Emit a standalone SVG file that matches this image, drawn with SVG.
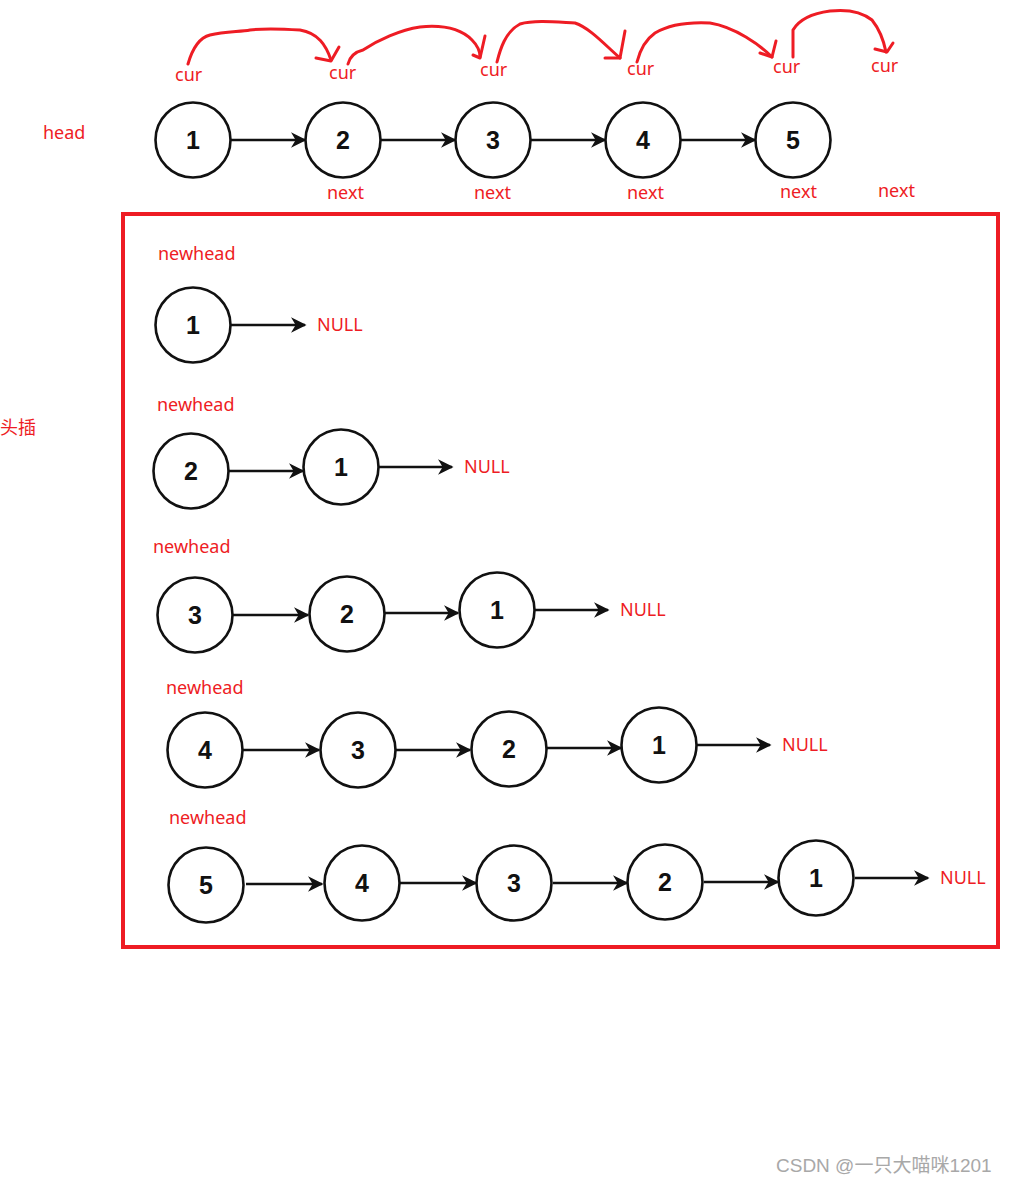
<svg xmlns="http://www.w3.org/2000/svg" width="1010" height="1184" viewBox="0 0 1010 1184">
<defs>
<style>
.n circle{fill:#fff;stroke:#111;stroke-width:2.6}
.n text{font-family:"Liberation Sans",Arial,sans-serif;font-weight:bold;font-size:25px;fill:#111;text-anchor:middle}
.lbl{font-family:"Noto Sans","Noto Sans CJK SC",sans-serif;font-size:18px;fill:#ee1c24}
.conn line{stroke:#111;stroke-width:2.6;marker-end:url(#ah)}
.red path{fill:none;stroke:#ee1c24;stroke-width:3;stroke-linecap:round;stroke-linejoin:round}
</style>
<marker id="ah" viewBox="0 0 10 10" refX="9" refY="5" markerWidth="6" markerHeight="6" markerUnits="strokeWidth" orient="auto">
<path d="M0,0 L10,5 L0,10 L3,5 z" fill="#111"/>
</marker>
</defs>
<rect width="1010" height="1184" fill="#fff"/>

<!-- red hand-drawn cur arrows -->
<g class="red" id="cur-arrows">
<path d="M188,64 C192,50 198,38 210,35 C225,31 240,32 250,30 C265,28 285,29 300,30 C318,33 326,45 331,60"/>
<path d="M316,58 L331,61 L339,47"/>
<path d="M348,64 C350,56 355,52 363,50 C378,40 400,30 420,27 C440,25 460,28 472,40 C478,46 480,52 480,57"/>
<path d="M473,55 L480,58 L485,36"/>
<path d="M497,62 C500,50 505,32 520,24 C535,20 555,22 575,23 C590,28 605,45 620,58"/>
<path d="M605,58 L620,58 L625,31"/>
<path d="M637,62 C640,50 645,40 655,33 C670,24 690,22 710,23 C735,27 760,45 772,57"/>
<path d="M760,53 L772,57 L776,41"/>
<path d="M793,57 L793,30 C800,18 815,13 830,11 C848,9 862,12 872,20 C880,30 884,42 886,52"/>
<path d="M875,49 L887,52 L893,43"/>
</g>

<!-- labels top -->
<g id="labels-top">
<text class="lbl" x="43" y="139">head</text>
<text class="lbl" x="175" y="81">cur</text>
<text class="lbl" x="329" y="79">cur</text>
<text class="lbl" x="480" y="76">cur</text>
<text class="lbl" x="627" y="75">cur</text>
<text class="lbl" x="773" y="73">cur</text>
<text class="lbl" x="871" y="72">cur</text>
<text class="lbl" x="327" y="199">next</text>
<text class="lbl" x="474" y="199">next</text>
<text class="lbl" x="627" y="199">next</text>
<text class="lbl" x="780" y="198">next</text>
<text class="lbl" x="878" y="197">next</text>
<text class="lbl" x="0" y="434">头插</text>
</g>

<rect id="frame" x="123" y="214" width="875" height="733" fill="none" stroke="#ee1c24" stroke-width="4"/>

<g id="labels-box">
<text class="lbl" x="158" y="260">newhead</text>
<text class="lbl" x="317" y="331">NULL</text>
<text class="lbl" x="157" y="411">newhead</text>
<text class="lbl" x="464" y="473">NULL</text>
<text class="lbl" x="153" y="553">newhead</text>
<text class="lbl" x="620" y="616">NULL</text>
<text class="lbl" x="166" y="694">newhead</text>
<text class="lbl" x="782" y="751">NULL</text>
<text class="lbl" x="169" y="824">newhead</text>
<text class="lbl" x="940" y="884">NULL</text>
</g>

<!-- connectors -->
<g class="conn" id="connectors">
<line x1="231" y1="140" x2="305" y2="140"/>
<line x1="381" y1="140" x2="455" y2="140"/>
<line x1="531" y1="140" x2="605" y2="140"/>
<line x1="681" y1="140" x2="755" y2="140"/>

<line x1="231" y1="325" x2="305" y2="325"/>

<line x1="229" y1="471" x2="303" y2="471"/>
<line x1="379" y1="467" x2="452" y2="467"/>

<line x1="233" y1="615" x2="308" y2="615"/>
<line x1="385" y1="613" x2="458" y2="613"/>
<line x1="535" y1="610" x2="608" y2="610"/>

<line x1="243" y1="750" x2="319" y2="750"/>
<line x1="396" y1="750" x2="470" y2="750"/>
<line x1="547" y1="748" x2="621" y2="748"/>
<line x1="697" y1="745" x2="770" y2="745"/>

<line x1="246" y1="884" x2="322" y2="884"/>
<line x1="400" y1="883" x2="476" y2="883"/>
<line x1="553" y1="883" x2="627" y2="883"/>
<line x1="704" y1="882" x2="778" y2="882"/>
<line x1="855" y1="878" x2="928" y2="878"/>
</g>

<!-- top list -->
<g class="n" id="t1"><circle cx="193" cy="140" r="37.5"/><text x="193" y="149">1</text></g>
<g class="n" id="t2"><circle cx="343" cy="140" r="37.5"/><text x="343" y="149">2</text></g>
<g class="n" id="t3"><circle cx="493" cy="140" r="37.5"/><text x="493" y="149">3</text></g>
<g class="n" id="t4"><circle cx="643" cy="140" r="37.5"/><text x="643" y="149">4</text></g>
<g class="n" id="t5"><circle cx="793" cy="140" r="37.5"/><text x="793" y="149">5</text></g>

<!-- row 1 -->
<g class="n" id="r1a"><circle cx="193" cy="325" r="37.5"/><text x="193" y="334">1</text></g>
<!-- row 2 -->
<g class="n" id="r2a"><circle cx="191" cy="471" r="37.5"/><text x="191" y="480">2</text></g>
<g class="n" id="r2b"><circle cx="341" cy="467" r="37.5"/><text x="341" y="476">1</text></g>
<!-- row 3 -->
<g class="n" id="r3a"><circle cx="195" cy="615" r="37.5"/><text x="195" y="624">3</text></g>
<g class="n" id="r3b"><circle cx="347" cy="614" r="37.5"/><text x="347" y="623">2</text></g>
<g class="n" id="r3c"><circle cx="497" cy="610" r="37.5"/><text x="497" y="619">1</text></g>
<!-- row 4 -->
<g class="n" id="r4a"><circle cx="205" cy="750" r="37.5"/><text x="205" y="759">4</text></g>
<g class="n" id="r4b"><circle cx="358" cy="750" r="37.5"/><text x="358" y="759">3</text></g>
<g class="n" id="r4c"><circle cx="509" cy="749" r="37.5"/><text x="509" y="758">2</text></g>
<g class="n" id="r4d"><circle cx="659" cy="745" r="37.5"/><text x="659" y="754">1</text></g>
<!-- row 5 -->
<g class="n" id="r5a"><circle cx="206" cy="885" r="37.5"/><text x="206" y="894">5</text></g>
<g class="n" id="r5b"><circle cx="362" cy="883" r="37.5"/><text x="362" y="892">4</text></g>
<g class="n" id="r5c"><circle cx="514" cy="883" r="37.5"/><text x="514" y="892">3</text></g>
<g class="n" id="r5d"><circle cx="665" cy="882" r="37.5"/><text x="665" y="891">2</text></g>
<g class="n" id="r5e"><circle cx="816" cy="878" r="37.5"/><text x="816" y="887">1</text></g>

<text x="776" y="1172" font-family="'Liberation Sans','Noto Sans CJK SC',sans-serif" font-size="19" fill="#a8a8a8">CSDN @一只大喵咪1201</text>
</svg>
